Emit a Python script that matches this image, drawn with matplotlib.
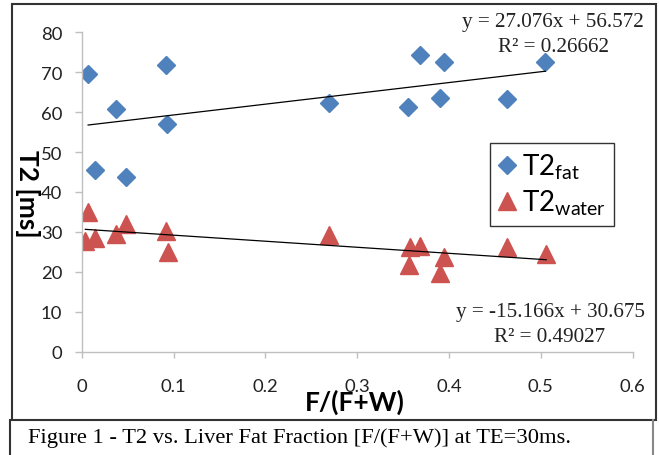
import matplotlib
matplotlib.use("Agg")
import matplotlib.pyplot as plt
from matplotlib.patches import Rectangle
from matplotlib.lines import Line2D
import numpy as np

plt.rcParams['font.family'] = ['Lato', 'DejaVu Sans']
plt.rcParams['mathtext.fontset'] = 'custom'
plt.rcParams['mathtext.rm'] = 'Lato'
plt.rcParams['mathtext.it'] = 'Lato:italic'
plt.rcParams['mathtext.bf'] = 'Lato:bold'

# ---- data ----
fat_x = [0.007, 0.092, 0.037, 0.093, 0.015, 0.048, 0.269, 0.369, 0.395, 0.505, 0.355, 0.390, 0.463]
fat_y = [69.5, 71.9, 60.9, 57.0, 45.5, 43.7, 62.4, 74.3, 72.5, 72.5, 61.2, 63.5, 63.3]

water_x = [0.007, 0.004, 0.015, 0.037, 0.048, 0.092, 0.094, 0.269, 0.358, 0.369, 0.356, 0.395, 0.390, 0.463, 0.506]
water_y = [34.9, 27.8, 28.4, 29.5, 32.0, 30.3, 24.9, 29.2, 26.1, 26.4, 21.7, 23.6, 19.7, 26.1, 24.4]

fat_fit = [27.076, 56.572]      # slope, intercept
water_fit = [-15.166, 30.675]
fat_r2 = "0.26662"
water_r2 = "0.49027"

x_ticks = [0, 0.1, 0.2, 0.3, 0.4, 0.5, 0.6]
x_ticklabels = ["0", "0.1", "0.2", "0.3", "0.4", "0.5", "0.6"]
y_ticks = [0, 10, 20, 30, 40, 50, 60, 70, 80]
y_ticklabels = ["0", "10", "20", "30", "40", "50", "60", "70", "80"]

series_labels = [r"T2$_{\rm fat}$", r"T2$_{\rm water}$"]
x_label = "F/(F+W)"
y_label = "T2 [ms]"
caption = "Figure 1 - T2 vs. Liver Fat Fraction [F/(F+W)] at TE=30ms."

BLUE = "#4F81BD"
RED = "#CC5350"

W, H = 659, 456
fig = plt.figure(figsize=(W / 100, H / 100), dpi=100)
fig.patch.set_facecolor("white")

def fx(px):
    return px / W

def fy(py):
    return 1 - py / H

ax = fig.add_axes([fx(81.7), fy(352.5), fx(632.5) - fx(81.7), fy(33.3) - fy(352.5)])
ax.set_facecolor("none")

# trend lines
for xs, fit in ((fat_x, fat_fit), (water_x, water_fit)):
    xl = np.array([min(xs), max(xs)])
    ax.plot(xl, fit[0] * xl + fit[1], color="black", lw=0.9, zorder=3)

ax.plot(fat_x, fat_y, linestyle="none", marker="D", ms=9.4, color=BLUE, mec=BLUE, zorder=2)
ax.plot(water_x, water_y, linestyle="none", marker="^", ms=12.5, color=RED, mec=RED, zorder=2)

ax.set_xlim(0, 0.6)
ax.set_ylim(0, 80)
ax.set_xticks(x_ticks)
ax.set_xticklabels(x_ticklabels)
ax.set_yticks(y_ticks)
ax.set_yticklabels(y_ticklabels)

for s in ("top", "right"):
    ax.spines[s].set_visible(False)
for s in ("left", "bottom"):
    ax.spines[s].set_color("#BFBFBF")
    ax.spines[s].set_linewidth(1.0)

ax.tick_params(axis="y", direction="out", length=5, width=1, color="#BFBFBF",
               pad=9, labelsize=13.3, labelcolor="#222222")
ax.tick_params(axis="x", direction="out", length=4, width=1, color="#BFBFBF",
               pad=15, labelsize=13.3, labelcolor="#222222")

# axis labels
fig.text(fx(27), fy(194), y_label, rotation=270, ha="center", va="center",
         fontsize=19, fontweight="bold", color="black")
fig.text(fx(355), fy(402), x_label, ha="center", va="center",
         fontsize=19, fontweight="bold", color="black")

# equations
eq_font = dict(family="Liberation Serif", fontsize=15.2, color="#222222", ha="center", va="center")
fig.text(fx(552.5), fy(23), "y = %.3fx + %.3f" % (fat_fit[0], fat_fit[1]), **eq_font)
fig.text(fx(553), fy(48), "R\u00b2 = " + fat_r2, **eq_font)
fig.text(fx(550), fy(313), "y = %.3fx + %.3f" % (water_fit[0], water_fit[1]), **eq_font)
fig.text(fx(550), fy(337), "R\u00b2 = " + water_r2, **eq_font)

# legend
handles = [Line2D([], [], linestyle="none", marker="D", ms=9.4, color=BLUE),
           Line2D([], [], linestyle="none", marker="^", ms=12.5, color=RED)]
leg = ax.legend(handles, series_labels, loc="upper left",
                bbox_to_anchor=(fx(490), fy(144)), bbox_transform=fig.transFigure,
                fontsize=20, frameon=True, fancybox=False, edgecolor="black",
                handlelength=0.6, handletextpad=0.25, borderpad=0.3, labelspacing=0.25,
                borderaxespad=0)
leg.get_frame().set_linewidth(1.0)

# borders
fig.add_artist(Rectangle((fx(11.7), fy(421)), fx(656) - fx(11.7), fy(4.7) - fy(421),
                         transform=fig.transFigure, fill=False, edgecolor="#333333", lw=1.5))
fig.add_artist(Line2D([fx(10), fx(10)], [fy(421), fy(456)], transform=fig.transFigure,
                      color="#333333", lw=1.5))
fig.add_artist(Line2D([fx(653), fx(653)], [fy(421), fy(456)], transform=fig.transFigure,
                      color="#888888", lw=1.5))

fig.text(fx(28), fy(443), caption, family="Liberation Serif", fontsize=16.2,
         ha="left", va="baseline", color="black")

fig.savefig("out.png", dpi=100)
